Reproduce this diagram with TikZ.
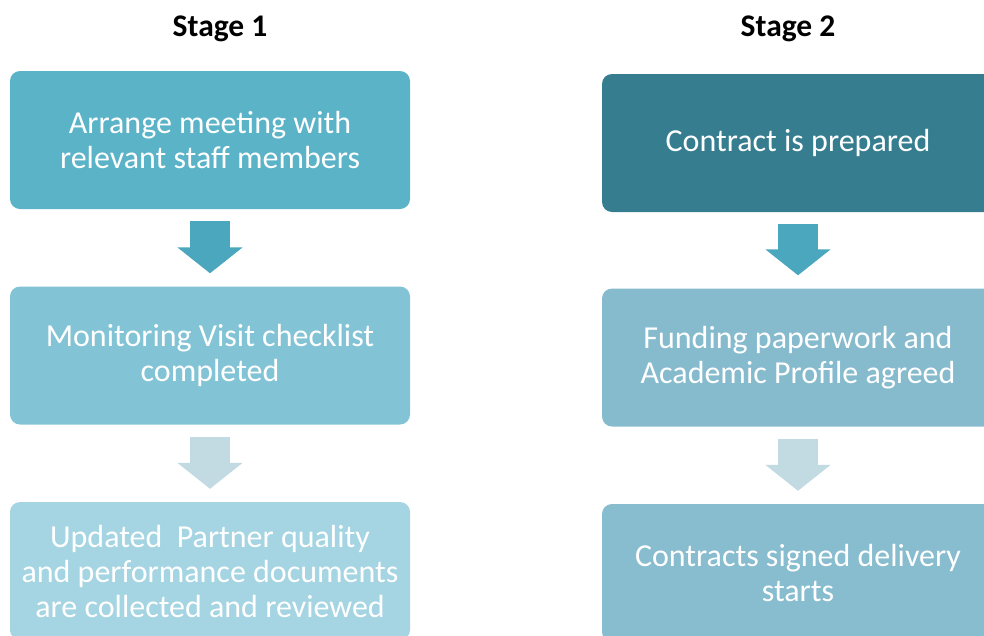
\documentclass[tikz,border=0pt]{standalone}
\usepackage{fontspec}
\setmainfont{Carlito}
\usetikzlibrary{arrows.meta}
\definecolor{OneA}{RGB}{91,179,200}
\definecolor{OneB}{RGB}{130,196,213}
\definecolor{OneC}{RGB}{165,213,226}
\definecolor{TwoA}{RGB}{54,125,144}
\definecolor{TwoB}{RGB}{134,187,206}
\definecolor{TwoC}{RGB}{136,188,207}
\definecolor{FlowDark}{RGB}{74,167,189}
\definecolor{FlowLight}{RGB}{194,219,227}

\begin{document}
\begin{tikzpicture}[x=1pt,y=-1pt,
      stepbox/.style={rounded corners=10pt,text=white,align=center,
                      font=\fontsize{32}{35}\selectfont,
                      minimum height=138pt,inner sep=0pt},
      title/.style={font=\bfseries\fontsize{31.5}{34}\selectfont},
      flow/.style={line width=40pt,shorten <=12pt,shorten >=13pt,
                   -{Triangle[width=64pt,length=26pt]}}]
    \useasboundingbox (0,0) rectangle (984,635);
    \clip (0,0) rectangle (984,635);
    % stage 1
    \node[title] (t1) at (220,29) {Stage 1};
    \node[stepbox,fill=OneA,minimum width=400pt] (s1a) at (210,140)
      {Arrange meeting with\\relevant staff members};
    \node[stepbox,fill=OneB,minimum width=400pt] (s1b) at (210,355.5)
      {Monitoring Visit checklist\\completed};
    \node[stepbox,fill=OneC,minimum width=400pt] (s1c) at (210,571)
      {Updated\ \ Partner quality\\and performance documents\\are collected and reviewed};
    \draw[flow,FlowDark] (s1a) -- (s1b);
    \draw[flow,FlowLight] (s1b) -- (s1c);
    % stage 2
    \node[title] (t2) at (788,29) {Stage 2};
    \node[stepbox,fill=TwoA,minimum width=392pt] (s2a) at (798,143)
      {Contract is prepared};
    \node[stepbox,fill=TwoB,minimum width=392pt] (s2b) at (798,357.5)
      {Funding paperwork and\\Academic Profile agreed};
    \node[stepbox,fill=TwoC,minimum width=392pt] (s2c) at (798,573)
      {Contracts signed delivery\\starts};
    \draw[flow,FlowDark] (s2a) -- (s2b);
    \draw[flow,FlowLight] (s2b) -- (s2c);
  \end{tikzpicture}
\end{document}
